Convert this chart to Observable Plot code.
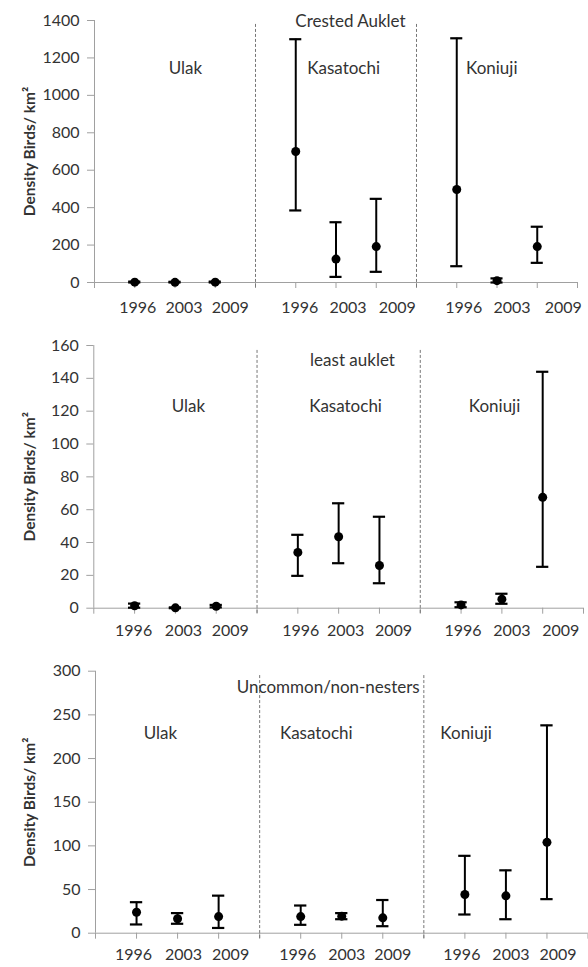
<!DOCTYPE html>
<html>
<head>
<meta charset="utf-8">
<script src="https://cdn.jsdelivr.net/npm/d3@7"></script>
<script src="https://cdn.jsdelivr.net/npm/@observablehq/plot@0.6"></script>
<style>
  html, body { margin: 0; padding: 0; background: #fff; }
  #chart { width: 588px; }
  #chart svg { display: block; }
  svg g[aria-label="y-axis tick"], svg g[aria-label="x-axis tick"] { stroke: #a0a0a0; }
  svg g[aria-label="y-axis tick label"] { fill: #333; }
</style>
</head>
<body>
<div id="chart"></div>
<script>
const islands = ["Ulak", "Kasatochi", "Koniuji"];
const years = ["1996", "2003", "2009"];

// Crested Auklet
const crestedMean = [2, 1, 2, 700, 125, 192, 497, 10, 192];
const crestedLow  = [0, 0, 0, 385, 30, 57, 87, 0, 105];
const crestedHigh = [5, 4, 5, 1300, 322, 447, 1305, 22, 298];
const crestedTicks = [0, 200, 400, 600, 800, 1000, 1200, 1400];

// least auklet
const leastMean = [1.5, 0.2, 1.2, 34, 43.5, 26, 2, 5.5, 67.5];
const leastLow  = [0.3, 0, 0.5, 19.7, 27.4, 15.2, 0.6, 2.7, 25.2];
const leastHigh = [2.8, 0.5, 2, 44.7, 63.9, 55.7, 3.6, 8.8, 144];
const leastTicks = [0, 20, 40, 60, 80, 100, 120, 140, 160];

// Uncommon/non-nesters
const uncommonMean = [24, 16.5, 19, 19, 19.5, 17.6, 44.3, 42.8, 104];
const uncommonLow  = [10, 10.8, 6, 9.6, 16, 8, 21.4, 16, 39];
const uncommonHigh = [35.5, 23, 43, 31.7, 23, 38, 88.6, 72, 238];
const uncommonTicks = [0, 50, 100, 150, 200, 250, 300];

const yLabel = "Density Birds/ km²";
const FONT = "Lato, 'Open Sans', sans-serif";
const TEXT = "#333";

const panels = [
  {
    title: "Crested Auklet", mean: crestedMean, low: crestedLow, high: crestedHigh, ticks: crestedTicks,
    height: 322, marginTop: 20, marginBottom: 40, marginLeft: 94, marginRight: 11,
    titlePos: [6.36, 1396], islandY: 1144, islandX: [2.26, 6.19, 9.87], sepTop: 1379,
    yearDy: 30, yearDx: [[3, 9, 15], [4, 12, 21], [7, 15, 26]]
  },
  {
    title: "least auklet", mean: leastMean, low: leastLow, high: leastHigh, ticks: leastTicks,
    height: 323, marginTop: 23, marginBottom: 37.3, marginLeft: 93.3, marginRight: 5,
    titlePos: [6.34, 151], islandY: 123, islandX: [2.32, 6.17, 9.82], sepTop: 157,
    yearDy: 28, yearDx: [[-1, 8, 14], [3, 7, 14], [2, 10, 18]]
  },
  {
    title: "Uncommon/non-nesters", mean: uncommonMean, low: uncommonLow, high: uncommonHigh, ticks: uncommonTicks,
    height: 322, marginTop: 25.7, marginBottom: 34.3, marginLeft: 95, marginRight: 0.5,
    titlePos: [5.67, 281], islandY: 229, islandX: [1.58, 5.38, 9.03], sepTop: 295,
    yearDy: 27, yearDx: [[-3, 6, 12], [-3, 5, 10], [-3, 5, 11]]
  }
];

const container = document.getElementById("chart");

for (const p of panels) {
  const rows = islands.flatMap((island, i) => years.map((year, j) => {
    const k = 3 * i + j;
    return {island, year, slot: 4 * i + j + 1, mean: p.mean[k], low: p.low[k], high: p.high[k], dx: p.yearDx[i][j]};
  }));
  const yMax = p.ticks[p.ticks.length - 1];
  const capHalf = 0.15;

  const chart = Plot.plot({
    width: 588,
    height: p.height,
    marginTop: p.marginTop,
    marginBottom: p.marginBottom,
    marginLeft: p.marginLeft,
    marginRight: p.marginRight,
    style: {fontFamily: FONT, fontSize: "16px", color: TEXT, background: "#fff", overflow: "visible"},
    x: {domain: [0, 12]},
    y: {domain: [0, yMax]},
    marks: [
      Plot.axisY({ticks: p.ticks, tickSize: 7, tickPadding: 8, tickFormat: d3.format("d"), label: null, fontSize: 16}),
      Plot.axisX({ticks: d3.range(0, 13), tickSize: 6, tickFormat: () => "", label: null}),
      Plot.ruleX([4, 8], {y1: p.sepTop, y2: 0, stroke: "#777", strokeWidth: 1, strokeDasharray: "3,2", insetBottom: -6}),
      Plot.ruleY([0], {stroke: "#a0a0a0"}),
      Plot.ruleX([0], {y1: 0, y2: yMax, stroke: "#a0a0a0"}),
      Plot.ruleX(rows, {x: "slot", y1: "low", y2: "high", stroke: "#000", strokeWidth: 2}),
      Plot.ruleY(rows, {y: "low", x1: d => d.slot - capHalf, x2: d => d.slot + capHalf, stroke: "#000", strokeWidth: 2.2}),
      Plot.ruleY(rows, {y: "high", x1: d => d.slot - capHalf, x2: d => d.slot + capHalf, stroke: "#000", strokeWidth: 2.2}),
      Plot.dot(rows, {x: "slot", y: "mean", r: 4.5, fill: "#000", stroke: null}),
      ...rows.map(r => Plot.text([r], {
        x: "slot", frameAnchor: "bottom", text: "year", dy: p.yearDy, dx: r.dx, fill: TEXT, fontSize: 16
      })),
      Plot.text(islands, {x: (d, i) => p.islandX[i], y: () => p.islandY, text: d => d, fill: TEXT, fontSize: 17}),
      Plot.text([p.title], {x: () => p.titlePos[0], y: () => p.titlePos[1], text: d => d, fill: TEXT, fontSize: 17}),
      Plot.text([yLabel], {frameAnchor: "left", textAnchor: "middle", text: d => d, rotate: -90, dx: 30 - p.marginLeft, fontWeight: "bold", fill: TEXT, fontSize: 15.5})
    ]
  });
  container.appendChild(chart);
}
</script>
</body>
</html>
